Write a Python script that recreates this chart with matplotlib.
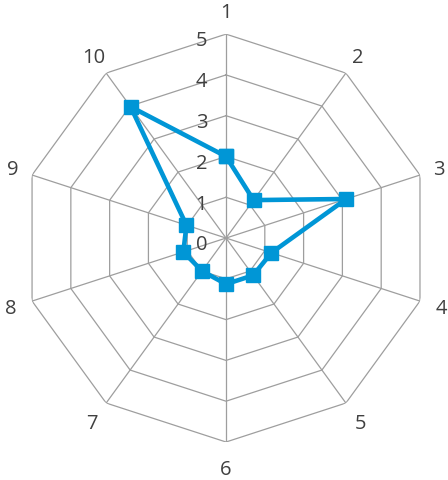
import numpy as np
import matplotlib
matplotlib.use("Agg")
import matplotlib.pyplot as plt

categories = ["1", "2", "3", "4", "5", "6", "7", "8", "9", "10"]
values = [2.0, 1.15, 3.1, 1.17, 1.13, 1.13, 1.0, 1.1, 1.02, 3.98]
rings = [0, 1, 2, 3, 4, 5]
ring_labels = ["0", "1", "2", "3", "4", "5"]

grid_color = "#9E9E9E"
line_color = "#0096D6"
text_color = "#404040"
font = "Open Sans"

fig = plt.figure(figsize=(4.48, 4.81), dpi=100)
ax = fig.add_axes([0.049, 0.079, 0.911, 0.848], projection="polar")
ax.set_theta_zero_location("N")
ax.set_theta_direction(-1)
ax.set_ylim(0, 5)
ax.grid(False)
ax.spines["polar"].set_visible(False)
ax.set_xticks([])
ax.set_yticks([])
ax.patch.set_alpha(0)

n = len(categories)
theta = np.arange(n) * 2 * np.pi / n
theta_closed = np.append(theta, theta[0])

# polygon rings
for r in rings[1:]:
    ax.plot(theta_closed, [r] * (n + 1), color=grid_color, lw=0.9, zorder=1)
# spokes
for t in theta:
    ax.plot([t, t], [0, rings[-1]], color=grid_color, lw=0.9, zorder=1)

# data
vals_closed = values + values[:1]
ax.plot(theta_closed, vals_closed, color=line_color, lw=3.3, marker="s",
        markersize=10.5, markerfacecolor=line_color, markeredgecolor=line_color,
        zorder=3, clip_on=False)

# category labels
label_r = [5.55, 5.5, 5.5, 5.55, 5.6, 5.65, 5.6, 5.55, 5.5, 5.5]
for t, lab, lr in zip(theta, categories, label_r):
    ax.text(t, lr, lab, ha="center", va="center", fontsize=14.5,
            color=text_color, family=font)

# radial labels
for r, lab in zip(rings, ring_labels):
    ax.annotate(lab, xy=(0, r), xytext=(-13.5, -4.5), textcoords="offset points",
                ha="right", va="center", fontsize=14.5, color=text_color,
                family=font, zorder=2)

fig.savefig("out.png", dpi=100)
